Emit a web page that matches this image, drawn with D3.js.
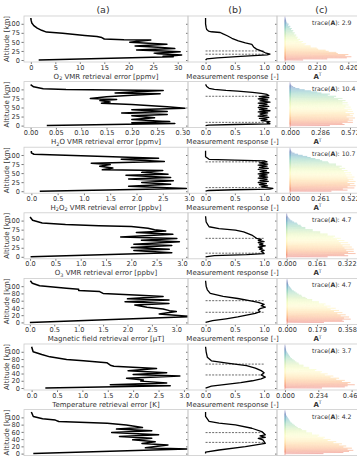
<!DOCTYPE html>
<html>
<head>
<meta charset="utf-8">
<script src="https://d3js.org/d3.v7.min.js"></script>
<style>
  body { margin: 0; background: #fff; }
  svg { display: block; font-family: "DejaVu Sans", sans-serif; }
</style>
</head>
<body>
<svg id="fig" width="357" height="458"></svg>
<script>
// ---- data ----
// altitude axis (km), shared by every panel
const altDomain = [-5.5, 121.5];
const altTicksA = [0, 25, 50, 75, 100];
const altTicksB = [0, 20, 40, 60, 80, 100];

// (a) retrieval error profiles: [altitude km, error]
const errO2 = [[116,0],[110,0.05],[102,0.2],[95,0.6],[88,1.3],[82,2.2],[77,3.2],[74,6.5],[71,8.5],[68,11],[65,13.5],[62,14.5],[58,15],[56,19],[55,24.5],[52,22],[49,20.2],[46,24],[43.5,27.8],[41,24],[39,21.3],[35,26],[31.5,29.4],[29,24],[27.5,21.6],[25,27],[23,30.5],[21,28],[19,25.2],[17,26],[16,28],[14,30.8],[12,29],[10.5,27],[9,29.1],[0,1.6]];
const errH2O = [[113,0],[107,0.006],[102,0.025],[99.5,0.07],[97,0.262],[93,0.2],[90,0.167],[88,0.256],[84,0.2],[80,0.15],[75,0.118],[72,0.17],[69,0.137],[65,0.157],[62,0.14],[58,0.2],[52,0.27],[48,0.305],[44,0.2],[39,0.27],[35,0.18],[31,0.27],[27,0.2],[22,0.245],[17,0.2],[11,0.275],[8,0.2],[6,0.285],[0,0.032]];
const errH2O2 = [[111,0],[106,0],[102,0.05],[96,1.4],[91,2.42],[88.5,1.71],[82,2.53],[77,1.14],[73.5,1.5],[69,1.3],[64,1.55],[59,1.35],[57,2.5],[52,2.1],[47,2.6],[44,1.8],[38,2.65],[34,1.85],[29,2.7],[24,2.1],[19,2.65],[14,1.85],[7.5,2.95],[0,0.16]];
const errO3 = [[110,0],[101,0.05],[93.5,0.24],[89,0.7],[86,1.36],[83.5,2.0],[79,2.33],[75,2.46],[71.5,2.68],[67,2.1],[62,2.82],[55,1.79],[50.5,2.9],[46,2.2],[41.5,2.95],[35,2.05],[31,2.8],[25.5,2.0],[21,2.75],[17.5,2.05],[11.5,2.8],[0,0.01]];
const errMag = [[115,0.01],[108,0.05],[101,0.2],[94,0.75],[91.5,1.0],[88,1.0],[85,1.43],[80,1.5],[75,2.25],[71.5,2.73],[65,2.0],[62,2.85],[57,1.95],[52,2.85],[48,2.15],[42,2.4],[37,2.73],[32.5,2.86],[30,3.0],[23.5,2.65],[16,3.3],[0,0]];
const errTemp = [[114,0],[100,0.03],[92.5,0.2],[86,0.36],[78.7,0.69],[75,1.02],[70,1.48],[63,1.55],[60,1.62],[53.6,2.46],[47.6,1.9],[42,2.66],[37.6,2.0],[33,2.92],[26.8,1.87],[22,2.2],[19,2.15],[13.7,2.66],[9,1.55],[6.3,2.73],[0,0.27]];
const errT7 = [[114.7,0],[102.5,0.04],[96,0.23],[92.5,0.49],[88.8,0.56],[84,1.55],[79,1.94],[72,2.27],[67.6,1.74],[63,2.46],[58.5,1.64],[52,2.6],[47.5,1.8],[42.5,2.46],[38,2.07],[33,2.53],[28,2.26],[24,2.79],[16,2.33],[13,3.18],[0,0.04]];

const errDomains = [[-1.4,32.1],[-0.013,0.311],[-0.14,2.98],[-0.12,3.12],[-0.12,3.24],[-0.15,3.08],[-0.15,3.2]];
const errTicks = [[0,5,10,15,20,25,30],[0,0.05,0.1,0.15,0.2,0.25,0.3],[0,0.5,1,1.5,2,2.5,3],[0,0.5,1,1.5,2,2.5,3],[0,0.5,1,1.5,2,2.5,3],[0,0.5,1,1.5,2,2.5,3],[]];
const errTickLabels = [["0","5","10","15","20","25","30"],["0.00","0.05","0.10","0.15","0.20","0.25","0.30"],["0.0","0.5","1.0","1.5","2.0","2.5","3.0"],["0.0","0.5","1.0","1.5","2.0","2.5","3.0"],["0.0","0.5","1.0","1.5","2.0","2.5","3.0"],["0.0","0.5","1.0","1.5","2.0","2.5","3.0"],[]];
const errLabels = ["O_{2} VMR retrieval error [ppmv]","H_{2}O VMR retrieval error [ppmv]","H_{2}O_{2} VMR retrieval error [ppbv]","O_{3} VMR retrieval error [ppbv]","Magnetic field retrieval error [\u03bcT]","Temperature retrieval error [K]",""];

// (b) measurement response: [altitude km, response]
const mrO2 = [[116,0],[100,0],[90,0.01],[84,0.02],[80,0.05],[78,0.1],[76,0.25],[72,0.3],[67,0.37],[60,0.45],[53,0.56],[47,0.68],[43,0.79],[36,0.82],[30,0.87],[25,0.95],[20,1.02],[16.5,1.1],[14,1.05],[10,0.6],[6,0.2],[3,0.02],[0,0]];
const mrH2O = [[114,0],[108,0.02],[103,0.06],[100,0.15],[97,0.35],[95,0.55],[92,0.8],[89,0.95],[86,1.05],[83,1.08],[80,0.92],[77,1.08],[74,0.9],[71,1.06],[68,0.93],[65,1.1],[62,0.9],[59,1.05],[56,0.92],[53,1.08],[50,0.9],[47,1.05],[44,0.92],[41,1.1],[38,0.9],[35,1.06],[32,0.93],[29,1.05],[26,0.9],[23,1.08],[20,0.92],[17,1.05],[14,0.95],[11,1.1],[8,1.05],[5,1.1],[3,0.5],[1.5,0.05],[0,0]];
const mrH2O2 = [[112,0],[95,0],[88,0.06],[86,0.5],[84,1.0],[81,1.05],[78,0.92],[75,1.06],[72,0.9],[69,1.05],[66,0.92],[63,1.07],[60,0.9],[57,1.04],[54,0.93],[51,1.08],[48,0.9],[45,1.05],[42,0.92],[39,1.06],[36,0.9],[33,1.05],[30,0.93],[27,1.07],[24,0.9],[21,1.04],[18,0.92],[15,1.06],[12,0.95],[8,1.15],[6,1.1],[4,0.5],[2,0.05],[0,0]];
const mrO3 = [[112,0],[96,0.01],[88,0.04],[83,0.06],[78,0.23],[73.5,0.51],[69,0.65],[60,0.79],[51,0.87],[48,0.95],[45,0.9],[42,1.0],[39,0.9],[36,0.98],[33,0.92],[30,1.02],[27,0.9],[24,0.97],[21,0.92],[18,1.0],[15,0.95],[12,0.98],[9,1.0],[6,0.7],[3,0.15],[0,0]];
const mrMag = [[115,0],[100,0.01],[90,0.03],[80,0.08],[72,0.3],[66,0.55],[60,0.75],[55,0.9],[50,1.0],[46,0.95],[42,1.02],[38,0.93],[34,0.9],[30,0.93],[25,0.85],[20,0.7],[15,0.55],[10,0.35],[5,0.12],[0,0]];
const mrTemp = [[114,0],[100,0.01],[85,0.03],[75,0.1],[68,0.4],[62,0.7],[55,0.85],[48,0.95],[42,1.0],[36,0.95],[30,1.02],[25,0.95],[20,0.8],[15,0.6],[10,0.35],[5,0.1],[0,0]];
const mrT7 = [[114.7,0],[102.5,0],[88.8,0.06],[84,0.23],[79.5,0.51],[70,0.79],[61,0.96],[52,1.02],[49,0.93],[45,1.02],[42,0.9],[38,0.98],[28,1.02],[19,0.68],[10,0.23],[4,0],[0,0]];
// dashed limits where the response passes 0.8
const mrLimits = [[25,16],[81,9],[81,10],[51,10],[60,28],[66,36],[58,31]];

// (c) averaging kernel peak values, one kernel every 3 km
const akAlt = [0,3,6,9,12,15,18,21,24,27,30,33,36,39,42,45,48,51,54,57,60,63,66,69,72,75,78,81,84,87,90,93,96,99,102,105,108,111,114];
const akO2 = [0.12,0.28,0.41,0.44,0.40,0.42,0.35,0.34,0.29,0.27,0.22,0.21,0.17,0.17,0.13,0.14,0.11,0.12,0.09,0.1,0.08,0.085,0.07,0.075,0.06,0.065,0.05,0.055,0.04,0.045,0.03,0.035,0.02,0.025,0.015,0.01,0.008,0.005,0.003];
const akH2O = [0.38,0.52,0.5,0.6,0.55,0.6,0.56,0.62,0.54,0.6,0.57,0.61,0.53,0.6,0.55,0.59,0.52,0.58,0.53,0.56,0.5,0.55,0.5,0.53,0.46,0.5,0.42,0.44,0.36,0.38,0.3,0.26,0.2,0.14,0.09,0.05,0.03,0.015,0.005];
const akH2O2 = [0.36,0.5,0.46,0.56,0.5,0.57,0.52,0.56,0.5,0.57,0.51,0.55,0.5,0.56,0.49,0.54,0.48,0.53,0.47,0.5,0.45,0.48,0.43,0.45,0.4,0.4,0.34,0.33,0.28,0.26,0.22,0.18,0.15,0.11,0.07,0.04,0.02,0.01,0.005];
const akO3 = [0.22,0.33,0.31,0.37,0.33,0.36,0.32,0.36,0.31,0.35,0.3,0.34,0.29,0.33,0.28,0.31,0.27,0.29,0.25,0.26,0.22,0.22,0.18,0.18,0.14,0.14,0.1,0.1,0.08,0.075,0.06,0.055,0.04,0.03,0.02,0.015,0.01,0.005,0.003];
const akMag = [0.22,0.34,0.33,0.38,0.34,0.37,0.32,0.35,0.3,0.33,0.28,0.31,0.26,0.29,0.24,0.26,0.22,0.23,0.19,0.19,0.15,0.15,0.12,0.11,0.09,0.085,0.07,0.06,0.05,0.04,0.03,0.025,0.02,0.015,0.01,0.008,0.005,0.003,0.002];
const akTemp = [0.26,0.42,0.44,0.49,0.44,0.46,0.4,0.42,0.36,0.38,0.32,0.34,0.28,0.3,0.25,0.26,0.21,0.22,0.17,0.17,0.13,0.13,0.1,0.095,0.08,0.07,0.06,0.05,0.04,0.035,0.03,0.025,0.02,0.015,0.01,0.008,0.005,0.003,0.002];
const akT7 = [0.27,0.41,0.45,0.48,0.44,0.47,0.41,0.43,0.38,0.4,0.34,0.36,0.3,0.32,0.27,0.28,0.23,0.24,0.19,0.19,0.15,0.15,0.12,0.11,0.09,0.08,0.07,0.06,0.05,0.04,0.035,0.03,0.025,0.02,0.015,0.01,0.006,0.004,0.002];
const akDomains = [[-0.053,0.537],[-0.124,0.725],[-0.113,0.661],[-0.052,0.426],[-0.06,0.471],[-0.056,0.569],[-0.056,0.569]];
const akTicks = [[0,0.210,0.420],[0,0.286,0.572],[0,0.261,0.522],[0,0.161,0.322],[0,0.179,0.358],[0,0.234,0.468],[]];
const traces = ["2.9","10.4","10.7","4.7","4.7","3.7","4.2"];

const errSeries = [errO2, errH2O, errH2O2, errO3, errMag, errTemp, errT7];
const mrSeries = [mrO2, mrH2O, mrH2O2, mrO3, mrMag, mrTemp, mrT7];
const akSeries = [akO2, akH2O, akH2O2, akO3, akMag, akTemp, akT7];

// ---- layout ----
const svg = d3.select("#fig");
const rowTop = 16, rowStep = 65.6, rowH = 46;
const colA = [24, 188], colB = [188, 277], colC = [277, 366];
const spineCol = "#cccccc", textCol = "#333333";
const fs = 7, tfs = 6.6;

svg.append("rect").attr("width", 357).attr("height", 458).attr("fill", "#fff");

// column titles
[["(a)", 103], ["(b)", 235], ["(c)", 321.5]].forEach(function (t) {
  svg.append("text").attr("x", t[1]).attr("y", 12.5)
    .attr("text-anchor", "middle").attr("font-size", 9.5).attr("fill", textCol)
    .text(t[0]);
});

// label with _{sub} parts
function richText(sel, str) {
  const parts = str.split(/_\{(.*?)\}/);
  parts.forEach(function (p, i) {
    if (!p) return;
    const ts = sel.append("tspan").text(p);
    if (i % 2 == 1) ts.attr("font-size", fs * 0.7).attr("dy", 1.5);
    else if (i > 0) ts.attr("dy", -1.5);
  });
}

const defs = svg.append("defs");

function styleAxis(g) {
  g.select(".domain").remove();
  g.selectAll(".tick line").attr("stroke", "#555").attr("stroke-width", 0.8);
  g.selectAll(".tick text").attr("fill", textCol).attr("font-size", tfs)
    .attr("font-family", "DejaVu Sans, sans-serif");
}

function clip(id, x0, x1, top, bot) {
  defs.append("clipPath").attr("id", id).append("rect")
    .attr("x", x0).attr("y", top).attr("width", x1 - x0).attr("height", bot - top);
  return "url(#" + id + ")";
}

errSeries.forEach(function (errData, r) {
  const top = rowTop + r * rowStep, bot = top + rowH;
  const y = d3.scaleLinear().domain(altDomain).range([bot, top]);
  const yTicks = r < 4 ? altTicksA : altTicksB;

  // ---- panel (a) ----
  const xA = d3.scaleLinear().domain(errDomains[r]).range(colA);
  const gA = svg.append("g");
  gA.append("path").datum(errData)
    .attr("clip-path", clip("ca" + r, colA[0], colA[1], top, bot))
    .attr("fill", "none").attr("stroke", "#000").attr("stroke-width", 1.5)
    .attr("stroke-linejoin", "round")
    .attr("d", d3.line().x(function (d) { return xA(d[1]); }).y(function (d) { return y(d[0]); }));
  gA.append("g").attr("transform", "translate(" + colA[0] + ",0)")
    .call(d3.axisLeft(y).tickValues(yTicks).tickSize(2.5).tickPadding(1.5))
    .call(styleAxis);
  if (errTicks[r].length) {
    gA.append("g").attr("transform", "translate(0," + bot + ")")
      .call(d3.axisBottom(xA).tickValues(errTicks[r]).tickSize(2).tickPadding(1)
        .tickFormat(function (d, i) { return errTickLabels[r][i]; }))
      .call(styleAxis);
    const lab = gA.append("text").attr("x", (colA[0] + colA[1]) / 2).attr("y", bot + 16.5)
      .attr("text-anchor", "middle").attr("font-size", fs).attr("fill", textCol);
    richText(lab, errLabels[r]);
  }
  gA.append("text").attr("transform", "translate(9," + (top + rowH / 2) + ") rotate(-90)")
    .attr("text-anchor", "middle").attr("font-size", fs).attr("fill", textCol)
    .text("Altitude [km]");

  // ---- panel (b) ----
  const xB = d3.scaleLinear().domain([-0.3, 1.22]).range(colB);
  const gB = svg.append("g");
  const cB = clip("cb" + r, colB[0], colB[1], top, bot);
  mrLimits[r].forEach(function (a) {
    gB.append("line").attr("clip-path", cB)
      .attr("x1", xB(0)).attr("x2", xB(1)).attr("y1", y(a)).attr("y2", y(a))
      .attr("stroke", "#444").attr("stroke-width", 0.8).attr("stroke-dasharray", "2,1.3");
  });
  gB.append("path").datum(mrSeries[r]).attr("clip-path", cB)
    .attr("fill", "none").attr("stroke", "#000").attr("stroke-width", 1.3)
    .attr("stroke-linejoin", "round")
    .attr("d", d3.line().x(function (d) { return xB(d[1]); }).y(function (d) { return y(d[0]); }));
  gB.append("g").attr("transform", "translate(" + colB[0] + ",0)")
    .call(d3.axisLeft(y).tickValues(yTicks).tickSize(2).tickFormat(""))
    .call(styleAxis);
  if (r < 6) {
    gB.append("g").attr("transform", "translate(0," + bot + ")")
      .call(d3.axisBottom(xB).tickValues([0, 0.5, 1]).tickSize(2).tickPadding(1)
        .tickFormat(d3.format(".1f")))
      .call(styleAxis);
    gB.append("text").attr("x", (colB[0] + colB[1]) / 2).attr("y", bot + 16.5)
      .attr("text-anchor", "middle").attr("font-size", fs).attr("fill", textCol)
      .text("Measurement response [-]");
  }

  // ---- panel (c) ----
  const xC = d3.scaleLinear().domain(akDomains[r]).range(colC);
  const gC = svg.append("g").attr("clip-path", clip("cc" + r, colC[0], colC[1], top, bot));
  const color = function (a) { return d3.interpolateSpectral(0.15 + 0.85 * a / 116); };
  akSeries[r].forEach(function (p, i) {
    const a = akAlt[i];
    // thin spike: baseline near zero, out to the peak and back
    const pts = [[0, a + 7], [0, a + 1.4], [p, a], [0, a - 0.6], [0, a - 7]];
    gC.append("path").datum(pts)
      .attr("fill", "none").attr("stroke", color(a)).attr("stroke-width", 0.6)
      .attr("stroke-opacity", 0.42)
      .attr("d", d3.line().x(function (d) { return xC(d[0]); }).y(function (d) { return y(d[1]); }));
  });
  svg.append("g").attr("transform", "translate(" + colC[0] + ",0)")
    .call(d3.axisLeft(y).tickValues(yTicks).tickSize(2).tickFormat(""))
    .call(styleAxis);
  if (akTicks[r].length) {
    svg.append("g").attr("transform", "translate(0," + bot + ")")
      .call(d3.axisBottom(xC).tickValues(akTicks[r]).tickSize(2).tickPadding(1)
        .tickFormat(d3.format(".3f")))
      .call(styleAxis);
    const at = svg.append("text").attr("x", (colC[0] + colC[1]) / 2 - 4).attr("y", bot + 16.5)
      .attr("text-anchor", "middle").attr("font-size", fs).attr("fill", textCol);
    at.append("tspan").attr("font-weight", "bold").text("A");
    at.append("tspan").attr("font-size", fs * 0.65).attr("dy", -2.3).text("T");
  }
  const tr = svg.append("text").attr("x", 312).attr("y", top + 9)
    .attr("font-size", 6.2).attr("fill", textCol);
  tr.append("tspan").text("trace(");
  tr.append("tspan").attr("font-weight", "bold").text("A");
  tr.append("tspan").text("): " + traces[r]);

  // frames
  [colA, colB, colC].forEach(function (c) {
    svg.append("rect").attr("x", c[0]).attr("y", top).attr("width", c[1] - c[0]).attr("height", rowH)
      .attr("fill", "none").attr("stroke", spineCol).attr("stroke-width", 0.8);
  });
});
</script>
</body>
</html>
